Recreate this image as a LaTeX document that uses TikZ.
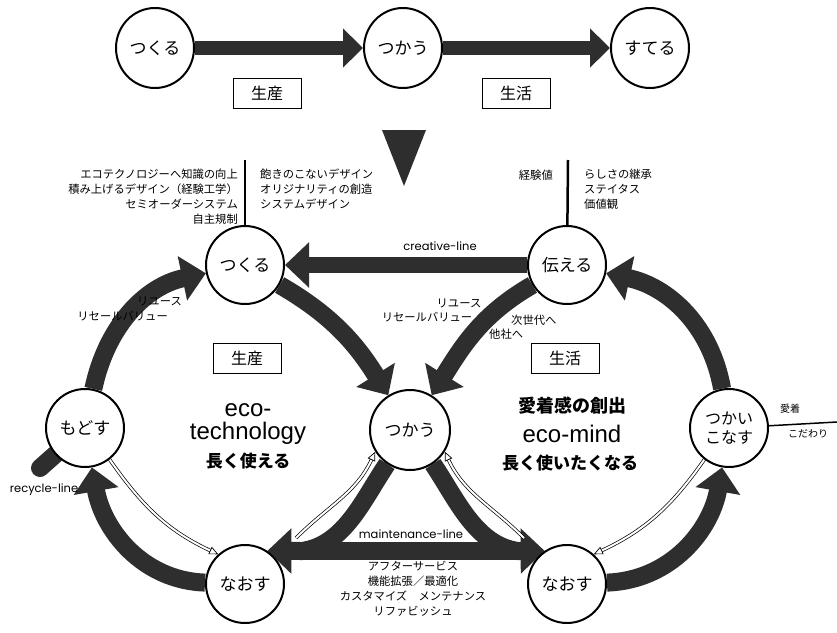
\documentclass[tikz,border=0pt]{standalone}
\usepackage{fontspec}
\setmainfont{Noto Sans CJK JP}
\newfontfamily\latf{Liberation Sans}
\newfontfamily\geof{Poppins}
\usetikzlibrary{arrows.meta,shapes.geometric}
\pgfdeclarelayer{bg}
\pgfsetlayers{bg,main}
\definecolor{ink}{gray}{0.18}
\tikzset{
  stage/.style={circle, draw, line width=2pt, fill=white, minimum size=78pt, inner sep=0pt, font=\fontsize{17}{19}\selectfont},
  topstage/.style={ellipse, draw, line width=2pt, fill=white, minimum width=78pt, minimum height=80pt, inner sep=0pt, font=\fontsize{17}{19}\selectfont},
  lblbox/.style={draw, line width=1pt, fill=white, minimum width=68pt, minimum height=30pt, font=\fontsize{16}{18}\selectfont},
  bigarr/.style={draw=ink, line width=18pt, -{Triangle[width=44pt,length=24pt]}},
  toparr/.style={draw=ink, line width=14pt, -{Triangle[width=38pt,length=20pt]}},
  band/.style={draw=ink, line width=18pt},
  thinarr/.style={draw=black, line width=0.7pt, double=white, double distance=2pt, -{Triangle[length=9pt,width=8pt,fill=white]}},
  small/.style={font=\fontsize{11.3}{15}\selectfont, inner sep=0pt},
  tiny/.style={font=\fontsize{10}{12}\selectfont, inner sep=0pt},
  linefont/.style={font=\geof\fontsize{11.5}{13}\selectfont, inner sep=1pt},
}
\begin{document}
\begin{tikzpicture}[x=1pt,y=1pt]
\useasboundingbox (0,0) rectangle (837,-632);
% top row
\node[topstage] (tA) at (155,-48) {つくる};
\node[topstage] (tB) at (403,-48) {つかう};
\node[topstage] (tC) at (650,-48) {すてる};
\node[lblbox] (b1) at (267,-93) {生産};
\node[lblbox] (b2) at (516,-93) {生活};
\fill[ink] (382,-130) -- (426,-130) -- (404,-186) -- cycle;
% lower nodes
\node[stage] (tsukuru) at (245,-265) {つくる};
\node[stage] (tsutaeru) at (567,-265) {伝える};
\node[stage] (modosu) at (85,-428) {もどす};
\node[stage, minimum size=80pt] (tsukau) at (410,-430) {つかう};
\node[stage, align=center, font=\fontsize{16}{19}\selectfont] (tsukai) at (729,-428) {つかい\\こなす};
\node[stage] (naosuL) at (245,-584) {なおす};
\node[stage] (naosuR) at (567,-584) {なおす};
\node[lblbox] (b3) at (247,-358) {生産};
\node[lblbox] (b4) at (565,-358) {生活};
% center texts
\node[font=\latf\fontsize{24}{23}\selectfont, align=center, inner sep=0pt] (eco1) at (248,-424) {eco-\\technology};
\node[font=\bfseries\fontsize{17}{19}\selectfont, inner sep=0pt] (nagaku1) at (248,-461) {長く使える};
\node[font=\bfseries\fontsize{18}{20}\selectfont, inner sep=0pt] (aichaku) at (572,-406) {愛着感の創出};
\node[font=\latf\fontsize{24}{26}\selectfont, inner sep=0pt] (eco2) at (572,-434) {eco-mind};
\node[font=\bfseries\fontsize{17}{19}\selectfont, inner sep=0pt] (nagaku2) at (570,-463) {長く使いたくなる};
% small texts
\node[small, align=right, anchor=north east] (tl) at (238,-169) {エコテクノロジーへ知識の向上\\積み上げるデザイン（経験工学）\\セミオーダーシステム\\自主規制};
\node[small, align=left, anchor=north west] (tm) at (260,-169) {飽きのこないデザイン\\オリジナリティの創造\\システムデザイン};
\node[small, anchor=east] (keiken) at (553,-175) {経験値};
\node[small, align=left, anchor=north west] (tr) at (584,-169) {らしさの継承\\ステイタス\\価値観};
\node[linefont] (cl) at (440,-246) {creative-line};
\node[small, anchor=east] (r1) at (182,-301) {リユース};
\node[small, anchor=east] (r2) at (168,-316) {リセールバリュー};
\node[small] (r3) at (459,-303) {リユース};
\node[small] (r4) at (427,-317) {リセールバリュー};
\node[small, anchor=west] (j1) at (511,-320) {次世代へ};
\node[small, anchor=west] (j2) at (489,-334) {他社へ};
\node[tiny] (ai) at (790,-409) {愛着};
\node[tiny] (kd) at (808,-434) {こだわり};
\node[linefont] (rl) at (44,-490) {recycle-line};
\node[small, align=center, anchor=north] (bt) at (413,-561) {アフターサービス\\機能拡張／最適化\\カスタマイズ　メンテナンス\\リファビッシュ};
\coordinate (l1) at (245,-160);
\coordinate (l2) at (568,-160);
\coordinate (rc) at (40,-468);
\coordinate (rt) at (837,-422);
\coordinate (ml1) at (302,-551);
\coordinate (ml2) at (518,-551);
\coordinate (tl1) at (296,-538);
\coordinate (tr1) at (524,-538);
\begin{pgfonlayer}{bg}
\draw[toparr] (tA) -- (tB);
\draw[toparr] (tB) -- (tC);
\draw[line width=2.5pt] (l1) -- (tsukuru);
\draw[line width=2.5pt] (l2) -- (tsutaeru);
\draw[line width=1.5pt] (tsukai) -- (rt);
\draw[bigarr, line width=16pt] (tsutaeru) -- (tsukuru);
\draw[band, line cap=round] (modosu) -- (rc);
% left ring
\draw[bigarr] (modosu) to[out=78,in=192] (tsukuru);
\draw[bigarr] (tsukuru) to[out=-30,in=122] (tsukau);
\draw[bigarr] (tsukau.236) to[out=236,in=8, looseness=0.9] (ml1) -- (naosuL.56);
\draw[bigarr] (naosuL) to[out=178,in=-80] (modosu);
% right ring
\draw[bigarr] (tsutaeru) to[out=210,in=58] (tsukau);
\draw[bigarr] (tsukai) to[out=100,in=-12] (tsutaeru);
\draw[bigarr] (tsukau.-56) to[out=-56,in=172, looseness=0.9] (ml2) -- (naosuR.124);
\draw[bigarr] (naosuR) to[out=2,in=-100] (tsukai);
% maintenance band
\draw[band] (ml1) -- (ml2);
% thin return arrows
\draw[thinarr] (modosu.-52) to[out=-55,in=155] (naosuL.132);
\draw[thinarr] (tl1) to[out=45,in=245] (tsukau.212);
\draw[thinarr] (tr1) to[out=135,in=-65] (tsukau.-32);
\draw[thinarr] (tsukai.-128) to[out=-125,in=25] (naosuR.48);
\end{pgfonlayer}
\node[linefont] (ml) at (411,-534) {maintenance-line};
\end{tikzpicture}
\end{document}
